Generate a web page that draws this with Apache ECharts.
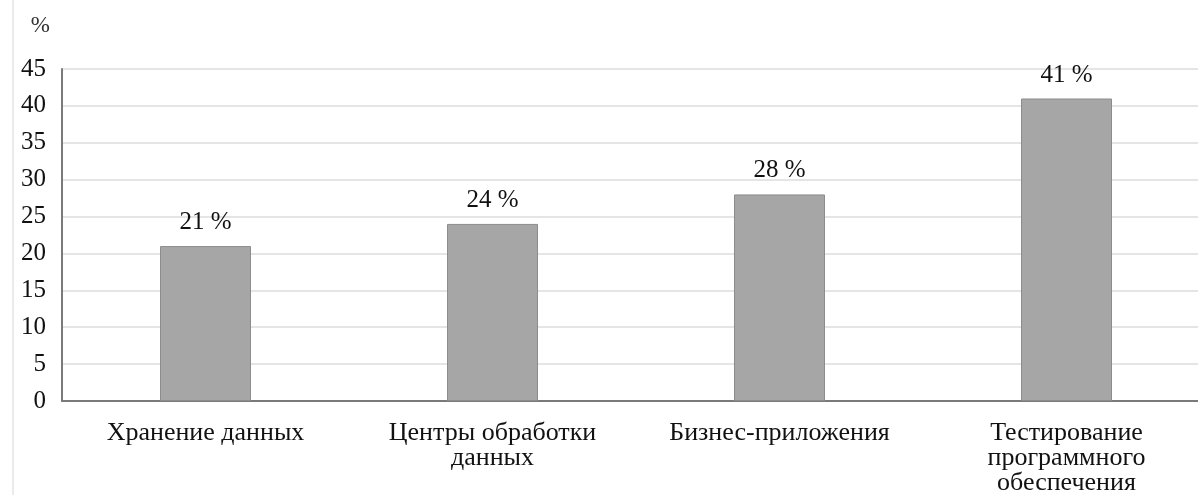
<!DOCTYPE html>
<html>
<head>
<meta charset="utf-8">
<script src="https://cdn.jsdelivr.net/npm/echarts@6/dist/echarts.min.js"></script>
<style>html,body{margin:0;padding:0;background:#fff}#c{width:1198px;height:495px}</style>
</head>
<body>
<div id="c"></div>
<script>
const categories = ['Хранение данных', 'Центры обработки\nданных', 'Бизнес-приложения', 'Тестирование\nпрограммного\nобеспечения'];
const values = [21, 24, 28, 41];
const yTicks = { min: 0, max: 45, interval: 5 };

const chart = echarts.init(document.getElementById('c'));
const font = '"Liberation Serif", "Times New Roman", serif';
chart.setOption({
  animation: false,
  backgroundColor: '#fff',
  graphic: [{
    type: 'line', shape: { x1: 13, y1: 0, x2: 13, y2: 495 },
    style: { stroke: '#e4e4e4', lineWidth: 1.5 }
  }],
  grid: { left: 62, top: 69, width: 1148, height: 332, outerBoundsMode: 'none', containLabel: false },
  xAxis: {
    type: 'category',
    data: categories,
    axisLine: { lineStyle: { color: '#7a7a7a', width: 2 } },
    axisTick: { show: false },
    axisLabel: { color: '#111', fontFamily: font, fontSize: 26, lineHeight: 25, margin: 20 }
  },
  yAxis: {
    type: 'value',
    min: yTicks.min, max: yTicks.max, interval: yTicks.interval,
    name: '%',
    nameLocation: 'end',
    nameGap: 32,
    nameTextStyle: { color: '#333', fontFamily: font, fontSize: 23, align: 'right', padding: [0, 12, 0, 0] },
    axisLine: { show: true, lineStyle: { color: '#7a7a7a', width: 2 } },
    axisTick: { show: false },
    axisLabel: { color: '#111', fontFamily: font, fontSize: 25, margin: 16 },
    splitLine: { lineStyle: { color: '#dcdcdc', width: 1.5 } }
  },
  series: [{
    type: 'bar',
    data: values,
    barWidth: 91,
    itemStyle: { color: '#a6a6a6', borderColor: '#8c8c8c', borderWidth: 1 },
    label: {
      show: true, position: 'top', distance: 11,
      formatter: p => p.value + ' %',
      color: '#111', fontFamily: font, fontSize: 25
    }
  }]
});
</script>
</body>
</html>
